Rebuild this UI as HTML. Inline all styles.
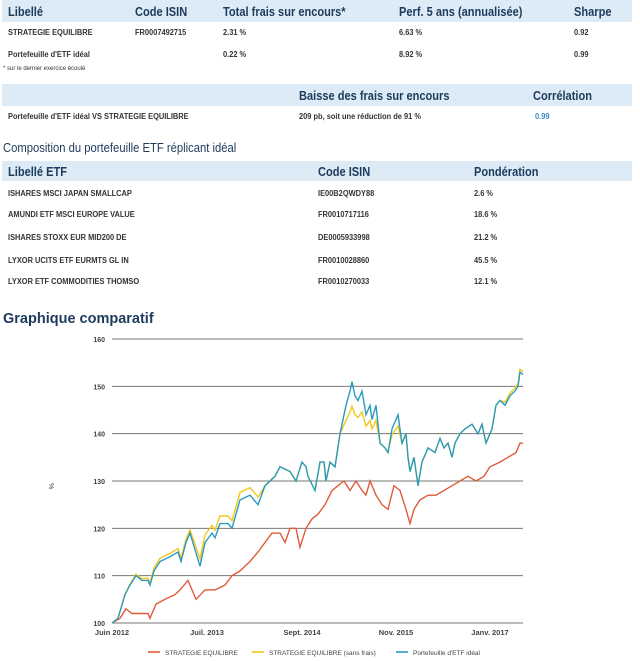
<!DOCTYPE html>
<html><head><meta charset="utf-8"><style>
body{margin:0;width:640px;height:661px;background:#fff;font-family:"Liberation Sans",sans-serif;position:relative;overflow:hidden}
.a{position:absolute;white-space:nowrap;transform-origin:0 0}
.hd{position:absolute;left:2px;width:630px;background:#dcebf6}
.h{font-size:13px;font-weight:bold;color:#1e3a5c;transform:scaleX(0.85)}
.c{font-size:8px;font-weight:bold;color:#333;transform:scaleX(0.93)}
.t{font-size:12.5px;color:#1e3a5c}
</style></head><body>
<div class="hd" style="top:0;height:22px"></div>
<div class="a h" style="left:8px;top:4px">Libellé</div>
<div class="a h" style="left:135px;top:4px">Code ISIN</div>
<div class="a h" style="left:223px;top:4px">Total frais sur encours*</div>
<div class="a h" style="left:399px;top:4px">Perf. 5 ans (annualisée)</div>
<div class="a h" style="left:574px;top:4px">Sharpe</div>
<div class="a c" style="left:8px;top:28px">STRATEGIE EQUILIBRE</div>
<div class="a c" style="left:135px;top:28px">FR0007492715</div>
<div class="a c" style="left:223px;top:28px">2.31 %</div>
<div class="a c" style="left:399px;top:28px">6.63 %</div>
<div class="a c" style="left:574px;top:28px">0.92</div>
<div class="a c" style="left:8px;top:50px">Portefeuille d'ETF idéal</div>
<div class="a c" style="left:223px;top:50px">0.22 %</div>
<div class="a c" style="left:399px;top:50px">8.92 %</div>
<div class="a c" style="left:574px;top:50px">0.99</div>
<div class="a" style="left:3px;top:66px;font-size:6px;color:#333">* sur le dernier exercice écoulé</div>
<div class="hd" style="top:84px;height:22px"></div>
<div class="a h" style="left:299px;top:88px">Baisse des frais sur encours</div>
<div class="a h" style="left:533px;top:88px">Corrélation</div>
<div class="a c" style="left:8px;top:112px">Portefeuille d'ETF idéal VS STRATEGIE EQUILIBRE</div>
<div class="a c" style="left:299px;top:112px">209 pb, soit une réduction de 91 %</div>
<div class="a c" style="left:535px;top:112px;color:#3a8ac0">0.99</div>
<div class="a t" style="left:3px;top:141px;transform:scaleX(0.9)">Composition du portefeuille ETF réplicant idéal</div>
<div class="hd" style="top:161px;height:20px"></div>
<div class="a h" style="left:8px;top:164px">Libellé ETF</div>
<div class="a h" style="left:318px;top:164px">Code ISIN</div>
<div class="a h" style="left:474px;top:164px">Pondération</div>
<div class="a c" style="left:8px;top:189px">ISHARES MSCI JAPAN SMALLCAP</div><div class="a c" style="left:318px;top:189px">IE00B2QWDY88</div><div class="a c" style="left:474px;top:189px">2.6 %</div>
<div class="a c" style="left:8px;top:210px">AMUNDI ETF MSCI EUROPE VALUE</div><div class="a c" style="left:318px;top:210px">FR0010717116</div><div class="a c" style="left:474px;top:210px">18.6 %</div>
<div class="a c" style="left:8px;top:233px">ISHARES STOXX EUR MID200 DE</div><div class="a c" style="left:318px;top:233px">DE0005933998</div><div class="a c" style="left:474px;top:233px">21.2 %</div>
<div class="a c" style="left:8px;top:256px">LYXOR UCITS ETF EURMTS GL IN</div><div class="a c" style="left:318px;top:256px">FR0010028860</div><div class="a c" style="left:474px;top:256px">45.5 %</div>
<div class="a c" style="left:8px;top:277px">LYXOR ETF COMMODITIES THOMSO</div><div class="a c" style="left:318px;top:277px">FR0010270033</div><div class="a c" style="left:474px;top:277px">12.1 %</div>
<div class="a" style="left:3px;top:311px;font-size:14.5px;font-weight:bold;color:#1e3a5c">Graphique comparatif</div>
<svg class="a" style="left:0;top:0" width="640" height="661" id="s"></svg>
<script>
var s=document.getElementById('s'),h='';
function y(v){return 623-(v-100)*4.733}
for(var v=100;v<=160;v+=10){h+='<line x1="112" x2="523" y1="'+y(v)+'" y2="'+y(v)+'" stroke="#777" stroke-width="1"/>';
h+='<text x="105" y="'+(y(v)+3)+'" font-size="7" text-anchor="end" fill="#444" font-family="Liberation Sans" font-weight="bold">'+v+'</text>';}
[[112,'Juin 2012'],[207,'Juil. 2013'],[302,'Sept. 2014'],[396,'Nov. 2015'],[490,'Janv. 2017']].forEach(function(l){h+='<text x="'+l[0]+'" y="635" font-size="7.5" text-anchor="middle" fill="#444" font-family="Liberation Sans" font-weight="bold">'+l[1]+'</text>'});
h+='<text x="49" y="483" font-size="7" fill="#444" font-family="Liberation Sans" transform="rotate(90 49 483)">%</text>';
function P(a,c){var p=a.map(function(q){return q[0]+','+y(q[1]).toFixed(1)}).join(' ');h+='<polyline points="'+p+'" fill="none" stroke="'+c+'" stroke-width="1.4"/>'}
var B=[[112,100],[118,101],[125,106],[130,108],[133,109],[136,110],[142,109],[148,109],[150,108],[154,111],[160,113],[170,114],[178,115],[181,113],[186,117],[190,119],[200,112],[205,117],[212,119],[215,118],[220,121],[228,121],[232,120],[240,126],[250,127],[258,125],[265,129],[275,131],[280,133],[290,132],[296,130],[302,134],[306,133],[308,131],[315,128],[320,134],[324,134],[326,130],[330,134],[335,133],[340,140],[346,146],[350,149],[352,151],[355,148],[358,147],[362,149],[366,144],[370,146],[372,143],[376,146],[378,142],[380,138],[385,137],[388,136],[392,141],[396,143],[398,144],[402,138],[406,140],[408,135],[410,132],[414,135],[418,129],[422,134],[428,137],[435,136],[440,139],[444,137],[448,138],[452,135],[455,138],[460,140],[465,141],[472,142],[478,140],[482,142],[486,138],[492,141],[496,146],[500,147],[505,146],[510,148],[515,149],[518,150],[520,153],[523,152.5]];
var Y=B.map(function(q){var x=q[0],v=q[1];if(x>120&&x<265)v+= (x<200?0.7:1.6)*Math.min(1,(x-120)/40);if(x>340&&x<405)v-=Math.max(0,(v-138))*0.4;if(x>500)v+=0.6;return [x,v]});
var R=[[112,100],[120,101],[126,103],[132,102],[140,102],[148,102],[150,101],[156,104],[165,105],[175,106],[180,107],[188,109],[196,105],[205,107],[215,107],[225,108],[232,110],[240,111],[250,113],[258,115],[265,117],[272,119],[280,119],[285,117],[290,120],[296,120],[300,116],[306,120],[312,122],[318,123],[325,125],[332,128],[338,129],[344,130],[350,128],[356,130],[362,128],[366,127],[370,130],[376,127],[382,125],[388,124],[394,129],[400,128],[406,124],[410,121],[414,124],[420,126],[428,127],[436,127],[444,128],[452,129],[460,130],[468,131],[476,130],[484,131],[490,133],[500,134],[508,135],[516,136],[520,138],[523,138]];
P(R,'#e05a3a');P(Y,'#f2c81a');P(B,'#2a9ac0');
[[148,'#e05a3a','STRATEGIE EQUILIBRE'],[252,'#f2c81a','STRATEGIE EQUILIBRE (sans frais)'],[396,'#2a9ac0',"Portefeuille d'ETF idéal"]].forEach(function(l){h+='<line x1="'+l[0]+'" x2="'+(l[0]+12)+'" y1="652" y2="652" stroke="'+l[1]+'" stroke-width="1.6"/><text x="'+(l[0]+17)+'" y="655" font-size="6.5" fill="#444" font-family="Liberation Sans">'+l[2]+'</text>'});
s.innerHTML=h;
</script>
</body></html>
